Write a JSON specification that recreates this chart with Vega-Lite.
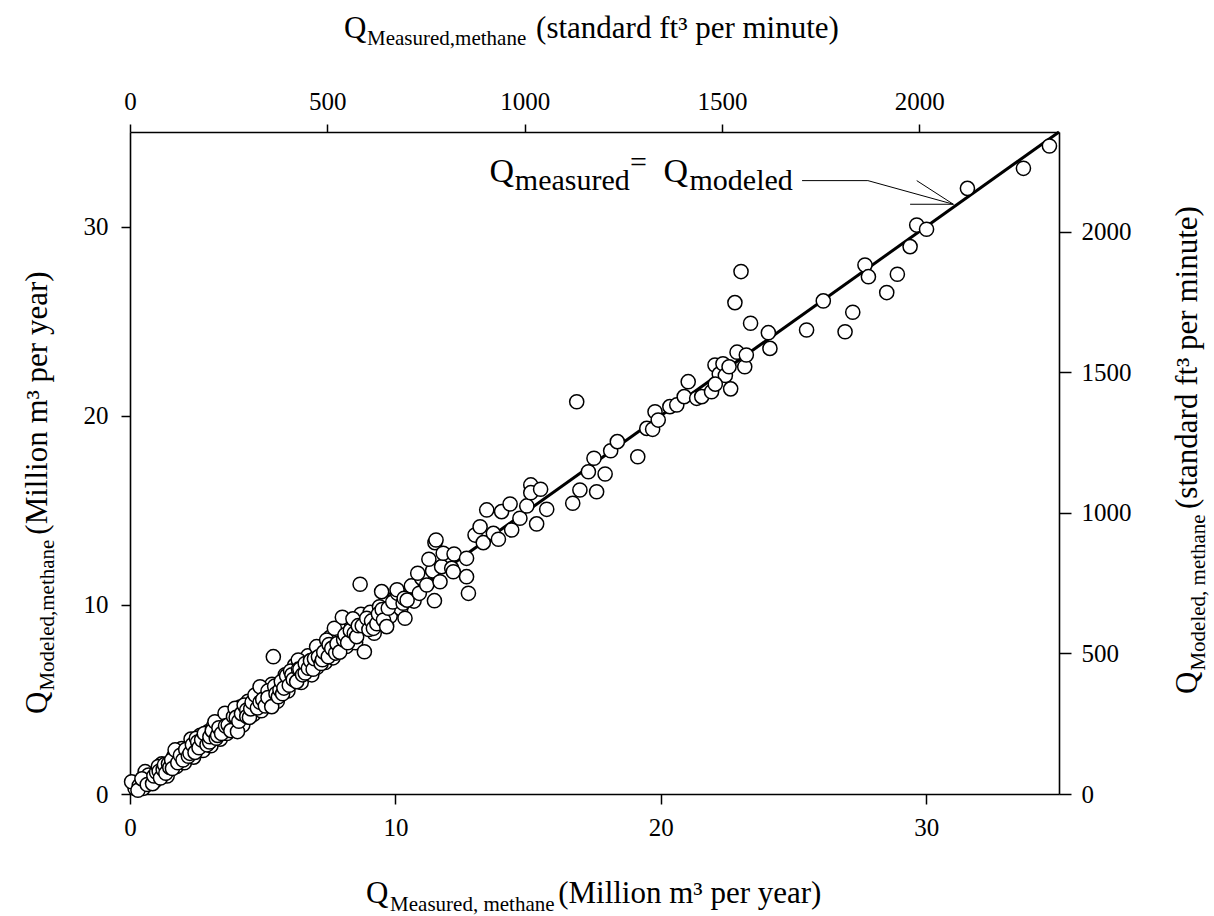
{
  "$schema": "https://vega.github.io/schema/vega-lite/v6.json",
  "width": 929,
  "height": 662,
  "autosize": {"type": "none"},
  "padding": {"left": 130, "top": 132, "right": 155, "bottom": 122},
  "background": "white",
  "data": {"values": [{}]},
  "config": {
    "view": {"stroke": null},
    "axis": {
      "domainColor": "black", "domainWidth": 1.6, "tickColor": "black", "tickWidth": 1.5,
      "labelFont": "Liberation Serif", "labelFontSize": 25, "labelColor": "black",
      "grid": false, "labelFlush": false, "labelOverlap": false
    },
    "text": {"font": "Liberation Serif", "color": "black"}
  },
  "resolve": {"axis": {"x": "independent", "y": "independent"}},
  "layer": [
    {
      "mark": {"type": "rule", "color": "black", "strokeWidth": 3},
      "encoding": {
        "x": {"datum": 0, "type": "quantitative", "scale": {"domain": [0, 35], "nice": false, "zero": false}, "axis": null},
        "y": {"datum": 0, "type": "quantitative", "scale": {"domain": [0, 35], "nice": false, "zero": false}, "axis": null},
        "x2": {"datum": 35},
        "y2": {"datum": 35}
      }
    },
    {
      "data": {"values": [
        {"measured": 0.19, "modeled": 0.30}, {"measured": 0.06, "modeled": 0.65}, {"measured": 0.35, "modeled": 0.45}, {"measured": 0.5, "modeled": 0.3},
        {"measured": 0.3, "modeled": 0.2}, {"measured": 0.57, "modeled": 1.18}, {"measured": 0.75, "modeled": 0.74}, {"measured": 0.7, "modeled": 1.0},
        {"measured": 0.45, "modeled": 0.8}, {"measured": 0.65, "modeled": 0.5}, {"measured": 0.95, "modeled": 0.7}, {"measured": 1.2, "modeled": 1.6},
        {"measured": 1.4, "modeled": 0.95}, {"measured": 1.65, "modeled": 2.0}, {"measured": 1.75, "modeled": 1.45}, {"measured": 1.95, "modeled": 2.4},
        {"measured": 2.05, "modeled": 1.65}, {"measured": 2.3, "modeled": 2.9}, {"measured": 2.4, "modeled": 1.95}, {"measured": 2.65, "modeled": 3.1},
        {"measured": 2.75, "modeled": 2.3}, {"measured": 2.95, "modeled": 3.3}, {"measured": 3.05, "modeled": 2.55}, {"measured": 3.15, "modeled": 3.6},
        {"measured": 3.4, "modeled": 2.9}, {"measured": 3.5, "modeled": 3.9}, {"measured": 3.65, "modeled": 3.2}, {"measured": 3.75, "modeled": 4.2},
        {"measured": 3.85, "modeled": 3.7}, {"measured": 4.15, "modeled": 4.6}, {"measured": 4.25, "modeled": 3.65}, {"measured": 4.45, "modeled": 4.9},
        {"measured": 4.65, "modeled": 4.2}, {"measured": 4.75, "modeled": 5.0}, {"measured": 4.95, "modeled": 4.4}, {"measured": 5.05, "modeled": 5.5},
        {"measured": 5.25, "modeled": 4.9}, {"measured": 5.35, "modeled": 5.8}, {"measured": 5.55, "modeled": 4.9}, {"measured": 5.85, "modeled": 6.3},
        {"measured": 5.95, "modeled": 5.45}, {"measured": 6.2, "modeled": 6.8}, {"measured": 6.45, "modeled": 5.9}, {"measured": 6.7, "modeled": 7.3},
        {"measured": 6.85, "modeled": 6.3}, {"measured": 7.05, "modeled": 6.7}, {"measured": 7.15, "modeled": 7.6}, {"measured": 7.35, "modeled": 6.95},
        {"measured": 7.55, "modeled": 8.3}, {"measured": 7.65, "modeled": 7.2}, {"measured": 7.85, "modeled": 8.4}, {"measured": 8.15, "modeled": 7.8},
        {"measured": 8.35, "modeled": 9.0}, {"measured": 8.5, "modeled": 8.0}, {"measured": 8.7, "modeled": 9.5}, {"measured": 9.05, "modeled": 9.6},
        {"measured": 9.2, "modeled": 8.5}, {"measured": 9.4, "modeled": 9.9}, {"measured": 9.8, "modeled": 9.4}, {"measured": 10.0, "modeled": 10.4},
        {"measured": 10.2, "modeled": 9.8}, {"measured": 10.6, "modeled": 11.0}, {"measured": 10.7, "modeled": 10.2}, {"measured": 11.0, "modeled": 11.4},
        {"measured": 11.4, "modeled": 11.8},
        {"measured": 0.85, "modeled": 0.55}, {"measured": 0.9, "modeled": 0.95}, {"measured": 1.0, "modeled": 1.15}, {"measured": 1.07, "modeled": 1.45},
        {"measured": 1.1, "modeled": 1.2}, {"measured": 1.15, "modeled": 0.85}, {"measured": 1.25, "modeled": 1.3}, {"measured": 1.3, "modeled": 1.55},
        {"measured": 1.35, "modeled": 1.1}, {"measured": 1.45, "modeled": 1.6}, {"measured": 1.5, "modeled": 1.4}, {"measured": 1.57, "modeled": 1.80},
        {"measured": 1.6, "modeled": 1.35}, {"measured": 1.7, "modeled": 2.33}, {"measured": 1.8, "modeled": 1.65}, {"measured": 1.9, "modeled": 2.05},
        {"measured": 2.0, "modeled": 1.8}, {"measured": 2.1, "modeled": 2.35}, {"measured": 2.2, "modeled": 2.0}, {"measured": 2.26, "modeled": 2.15},
        {"measured": 2.35, "modeled": 2.6}, {"measured": 2.45, "modeled": 2.2}, {"measured": 2.5, "modeled": 2.95}, {"measured": 2.55, "modeled": 2.75},
        {"measured": 2.6, "modeled": 2.45}, {"measured": 2.70, "modeled": 2.86}, {"measured": 2.8, "modeled": 3.2}, {"measured": 2.9, "modeled": 2.6},
        {"measured": 3.0, "modeled": 2.75}, {"measured": 3.01, "modeled": 3.03}, {"measured": 3.1, "modeled": 3.35}, {"measured": 3.2, "modeled": 3.82},
        {"measured": 3.25, "modeled": 2.95}, {"measured": 3.3, "modeled": 3.1}, {"measured": 3.35, "modeled": 3.5}, {"measured": 3.45, "modeled": 3.2},
        {"measured": 3.58, "modeled": 4.27}, {"measured": 3.6, "modeled": 3.6}, {"measured": 3.70, "modeled": 3.65}, {"measured": 3.8, "modeled": 3.35},
        {"measured": 3.9, "modeled": 4.1}, {"measured": 3.96, "modeled": 4.53}, {"measured": 4.0, "modeled": 4.05}, {"measured": 4.05, "modeled": 3.3},
        {"measured": 4.1, "modeled": 3.85}, {"measured": 4.2, "modeled": 4.25}, {"measured": 4.3, "modeled": 4.7}, {"measured": 4.40, "modeled": 4.44},
        {"measured": 4.4, "modeled": 4.1}, {"measured": 4.5, "modeled": 4.05}, {"measured": 4.55, "modeled": 4.5}, {"measured": 4.6, "modeled": 4.85},
        {"measured": 4.71, "modeled": 5.23}, {"measured": 4.8, "modeled": 4.55}, {"measured": 4.9, "modeled": 5.67}, {"measured": 4.9, "modeled": 4.85},
        {"measured": 5.0, "modeled": 5.0}, {"measured": 5.1, "modeled": 4.65}, {"measured": 5.2, "modeled": 5.45}, {"measured": 5.2, "modeled": 5.1},
        {"measured": 5.34, "modeled": 4.62}, {"measured": 5.40, "modeled": 7.26}, {"measured": 5.45, "modeled": 5.7}, {"measured": 5.5, "modeled": 5.3},
        {"measured": 5.59, "modeled": 5.14}, {"measured": 5.65, "modeled": 5.5}, {"measured": 5.7, "modeled": 5.95}, {"measured": 5.75, "modeled": 5.3},
        {"measured": 5.8, "modeled": 5.6}, {"measured": 5.9, "modeled": 6.25}, {"measured": 6.0, "modeled": 5.75}, {"measured": 6.05, "modeled": 6.5},
        {"measured": 6.1, "modeled": 6.3}, {"measured": 6.15, "modeled": 6.05}, {"measured": 6.28, "modeled": 5.94}, {"measured": 6.34, "modeled": 7.08},
        {"measured": 6.35, "modeled": 6.6}, {"measured": 6.4, "modeled": 6.6}, {"measured": 6.5, "modeled": 6.3}, {"measured": 6.6, "modeled": 6.4},
        {"measured": 6.6, "modeled": 6.9}, {"measured": 6.72, "modeled": 6.65}, {"measured": 6.8, "modeled": 7.05}, {"measured": 6.9, "modeled": 6.6},
        {"measured": 6.95, "modeled": 7.15}, {"measured": 7.03, "modeled": 7.79}, {"measured": 7.1, "modeled": 7.25}, {"measured": 7.2, "modeled": 6.9},
        {"measured": 7.25, "modeled": 7.1}, {"measured": 7.3, "modeled": 7.5}, {"measured": 7.41, "modeled": 8.14}, {"measured": 7.47, "modeled": 7.26},
        {"measured": 7.5, "modeled": 7.9}, {"measured": 7.6, "modeled": 7.7}, {"measured": 7.70, "modeled": 8.76}, {"measured": 7.75, "modeled": 7.45},
        {"measured": 7.8, "modeled": 7.95}, {"measured": 7.9, "modeled": 7.5}, {"measured": 8.0, "modeled": 9.34}, {"measured": 8.05, "modeled": 8.15},
        {"measured": 8.10, "modeled": 8.41}, {"measured": 8.2, "modeled": 8.0}, {"measured": 8.3, "modeled": 8.65}, {"measured": 8.4, "modeled": 9.26},
        {"measured": 8.45, "modeled": 8.5}, {"measured": 8.54, "modeled": 8.32}, {"measured": 8.6, "modeled": 8.9}, {"measured": 8.67, "modeled": 11.09},
        {"measured": 8.75, "modeled": 8.9}, {"measured": 8.83, "modeled": 7.52}, {"measured": 8.92, "modeled": 9.29}, {"measured": 9.0, "modeled": 8.7},
        {"measured": 9.1, "modeled": 9.15}, {"measured": 9.17, "modeled": 8.76}, {"measured": 9.3, "modeled": 9.0}, {"measured": 9.36, "modeled": 9.52},
        {"measured": 9.48, "modeled": 10.7}, {"measured": 9.5, "modeled": 9.75}, {"measured": 9.55, "modeled": 9.2}, {"measured": 9.67, "modeled": 8.85},
        {"measured": 9.73, "modeled": 9.82}, {"measured": 9.9, "modeled": 10.15}, {"measured": 10.08, "modeled": 10.61}, {"measured": 10.06, "modeled": 10.8},
        {"measured": 10.29, "modeled": 10.09}, {"measured": 10.33, "modeled": 10.35}, {"measured": 10.36, "modeled": 9.29}, {"measured": 10.44, "modeled": 10.25},
        {"measured": 10.84, "modeled": 11.67}, {"measured": 10.9, "modeled": 10.61}, {"measured": 11.18, "modeled": 11.05}, {"measured": 11.26, "modeled": 12.41},
        {"measured": 11.47, "modeled": 10.22}, {"measured": 11.49, "modeled": 13.29}, {"measured": 11.53, "modeled": 13.43}, {"measured": 11.68, "modeled": 11.22},
        {"measured": 11.74, "modeled": 12.02}, {"measured": 11.80, "modeled": 12.73}, {"measured": 12.12, "modeled": 11.93}, {"measured": 12.18, "modeled": 11.75},
        {"measured": 12.21, "modeled": 12.69}, {"measured": 12.68, "modeled": 11.49}, {"measured": 12.68, "modeled": 12.46}, {"measured": 12.75, "modeled": 10.61},
        {"measured": 13.0, "modeled": 13.69}, {"measured": 13.19, "modeled": 14.13}, {"measured": 13.31, "modeled": 13.29}, {"measured": 13.44, "modeled": 15.02},
        {"measured": 13.69, "modeled": 13.78}, {"measured": 13.88, "modeled": 13.47}, {"measured": 14.0, "modeled": 14.93}, {"measured": 14.32, "modeled": 15.33},
        {"measured": 14.38, "modeled": 13.96}, {"measured": 14.69, "modeled": 14.58}, {"measured": 14.95, "modeled": 15.23}, {"measured": 15.1, "modeled": 16.34},
        {"measured": 15.1, "modeled": 15.93}, {"measured": 15.32, "modeled": 14.28}, {"measured": 15.47, "modeled": 16.11}, {"measured": 15.70, "modeled": 15.05},
        {"measured": 16.68, "modeled": 15.37}, {"measured": 16.83, "modeled": 20.74}, {"measured": 16.95, "modeled": 16.07}, {"measured": 17.27, "modeled": 17.04},
        {"measured": 17.48, "modeled": 17.75}, {"measured": 17.58, "modeled": 15.98}, {"measured": 17.9, "modeled": 16.92}, {"measured": 18.11, "modeled": 18.15},
        {"measured": 18.36, "modeled": 18.63}, {"measured": 19.13, "modeled": 17.83}, {"measured": 19.47, "modeled": 19.33}, {"measured": 19.69, "modeled": 19.28},
        {"measured": 19.78, "modeled": 20.21}, {"measured": 19.90, "modeled": 19.77}, {"measured": 20.34, "modeled": 20.48}, {"measured": 20.6, "modeled": 20.57},
        {"measured": 20.88, "modeled": 21.01}, {"measured": 21.03, "modeled": 21.80}, {"measured": 21.35, "modeled": 20.92}, {"measured": 21.54, "modeled": 21.01},
        {"measured": 21.91, "modeled": 21.27}, {"measured": 22.04, "modeled": 22.68}, {"measured": 22.2, "modeled": 22.2}, {"measured": 22.34, "modeled": 22.75},
        {"measured": 22.43, "modeled": 22.13}, {"measured": 22.05, "modeled": 21.67}, {"measured": 22.63, "modeled": 21.42}, {"measured": 22.57, "modeled": 22.59},
        {"measured": 22.87, "modeled": 23.36}, {"measured": 23.16, "modeled": 22.59}, {"measured": 23.22, "modeled": 23.21}, {"measured": 23.02, "modeled": 27.62},
        {"measured": 22.79, "modeled": 25.98}, {"measured": 23.38, "modeled": 24.89}, {"measured": 24.05, "modeled": 24.39}, {"measured": 24.11, "modeled": 23.56},
        {"measured": 25.49, "modeled": 24.53}, {"measured": 26.12, "modeled": 26.07}, {"measured": 27.23, "modeled": 25.47}, {"measured": 26.94, "modeled": 24.44},
        {"measured": 27.69, "modeled": 27.97}, {"measured": 27.82, "modeled": 27.35}, {"measured": 28.91, "modeled": 27.48}, {"measured": 28.51, "modeled": 26.51},
        {"measured": 29.39, "modeled": 28.94}, {"measured": 29.64, "modeled": 30.08}, {"measured": 30.01, "modeled": 29.86}, {"measured": 31.55, "modeled": 32.02},
        {"measured": 33.66, "modeled": 33.08}, {"measured": 34.64, "modeled": 34.26}
      ]},
      "mark": {"type": "circle", "fill": "white", "stroke": "black", "strokeWidth": 1.5, "opacity": 1, "fillOpacity": 1, "size": 200},
      "encoding": {
        "x": {"field": "measured", "type": "quantitative", "scale": {"domain": [0, 35], "nice": false, "zero": false},
              "axis": {"orient": "bottom", "values": [0, 10, 20, 30], "title": null, "tickSize": 10, "labelPadding": 11}},
        "y": {"field": "modeled", "type": "quantitative", "scale": {"domain": [0, 35], "nice": false, "zero": false},
              "axis": {"orient": "left", "values": [0, 10, 20, 30], "title": null, "tickSize": 9, "labelPadding": 13}}
      }
    },
    {
      "mark": {"type": "point", "opacity": 0},
      "encoding": {
        "x": {"datum": 0, "type": "quantitative", "scale": {"domain": [0, 35], "nice": false, "zero": false},
              "axis": {"orient": "top", "values": [0, 7.4342, 14.8683, 22.3025, 29.7366], "labelExpr": "format(datum.value * 2354 / 35, '.0f')", "title": null, "tickSize": 8, "labelPadding": 10}},
        "y": {"datum": 0, "type": "quantitative", "scale": {"domain": [0, 35], "nice": false, "zero": false},
              "axis": {"orient": "right", "values": [0, 7.4342, 14.8683, 22.3025, 29.7366], "labelExpr": "format(datum.value * 2354 / 35, '.0f')", "title": null, "tickSize": 12, "labelPadding": 10}}
      }
    },
    {
      "mark": {"type": "rule", "color": "black", "strokeWidth": 1},
      "encoding": {
        "x": {"datum": 25.32, "type": "quantitative", "scale": {"domain": [0, 35]}, "axis": null},
        "y": {"datum": 32.43, "type": "quantitative", "scale": {"domain": [0, 35]}, "axis": null},
        "x2": {"datum": 27.80}, "y2": {"datum": 32.43}
      }
    },
    {
      "mark": {"type": "rule", "color": "black", "strokeWidth": 1},
      "encoding": {
        "x": {"datum": 27.80, "type": "quantitative", "scale": {"domain": [0, 35]}, "axis": null},
        "y": {"datum": 32.43, "type": "quantitative", "scale": {"domain": [0, 35]}, "axis": null},
        "x2": {"datum": 31.02}, "y2": {"datum": 31.18}
      }
    },
    {
      "mark": {"type": "rule", "color": "black", "strokeWidth": 1},
      "encoding": {
        "x": {"datum": 29.64, "type": "quantitative", "scale": {"domain": [0, 35]}, "axis": null},
        "y": {"datum": 32.43, "type": "quantitative", "scale": {"domain": [0, 35]}, "axis": null},
        "x2": {"datum": 31.02}, "y2": {"datum": 31.18}
      }
    },
    {
      "mark": {"type": "rule", "color": "black", "strokeWidth": 1},
      "encoding": {
        "x": {"datum": 29.39, "type": "quantitative", "scale": {"domain": [0, 35]}, "axis": null},
        "y": {"datum": 31.18, "type": "quantitative", "scale": {"domain": [0, 35]}, "axis": null},
        "x2": {"datum": 31.02}, "y2": {"datum": 31.18}
      }
    },
    {
      "mark": {"type": "text", "fontSize": 34, "align": "left", "baseline": "alphabetic"},
      "encoding": {
        "x": {"datum": 13.54, "type": "quantitative", "scale": {"domain": [0, 35]}, "axis": null},
        "y": {"datum": 32.36, "type": "quantitative", "scale": {"domain": [0, 35]}, "axis": null},
        "text": {"value": "Q"}
      }
    },
    {
      "mark": {"type": "text", "fontSize": 30, "align": "left", "baseline": "alphabetic"},
      "encoding": {
        "x": {"datum": 14.50, "type": "quantitative", "scale": {"domain": [0, 35]}, "axis": null},
        "y": {"datum": 31.93, "type": "quantitative", "scale": {"domain": [0, 35]}, "axis": null},
        "text": {"value": "measured"}
      }
    },
    {
      "mark": {"type": "text", "fontSize": 30, "align": "center", "baseline": "alphabetic"},
      "encoding": {
        "x": {"datum": 19.16, "type": "quantitative", "scale": {"domain": [0, 35]}, "axis": null},
        "y": {"datum": 32.89, "type": "quantitative", "scale": {"domain": [0, 35]}, "axis": null},
        "text": {"value": "="}
      }
    },
    {
      "mark": {"type": "text", "fontSize": 34, "align": "left", "baseline": "alphabetic"},
      "encoding": {
        "x": {"datum": 20.10, "type": "quantitative", "scale": {"domain": [0, 35]}, "axis": null},
        "y": {"datum": 32.36, "type": "quantitative", "scale": {"domain": [0, 35]}, "axis": null},
        "text": {"value": "Q"}
      }
    },
    {
      "mark": {"type": "text", "fontSize": 30, "align": "left", "baseline": "alphabetic"},
      "encoding": {
        "x": {"datum": 21.08, "type": "quantitative", "scale": {"domain": [0, 35]}, "axis": null},
        "y": {"datum": 31.93, "type": "quantitative", "scale": {"domain": [0, 35]}, "axis": null},
        "text": {"value": "modeled"}
      }
    },
    {
      "mark": {"type": "text", "fontSize": 31, "align": "left", "baseline": "alphabetic"},
      "encoding": {
        "x": {"datum": 8.89, "type": "quantitative", "scale": {"domain": [0, 35]}, "axis": null},
        "y": {"datum": -5.76, "type": "quantitative", "scale": {"domain": [0, 35]}, "axis": null},
        "text": {"value": "Q"}
      }
    },
    {
      "mark": {"type": "text", "fontSize": 21, "align": "left", "baseline": "alphabetic"},
      "encoding": {
        "x": {"datum": 9.80, "type": "quantitative", "scale": {"domain": [0, 35]}, "axis": null},
        "y": {"datum": -6.19, "type": "quantitative", "scale": {"domain": [0, 35]}, "axis": null},
        "text": {"value": "Measured, methane"}
      }
    },
    {
      "mark": {"type": "text", "fontSize": 31, "align": "left", "baseline": "alphabetic"},
      "encoding": {
        "x": {"datum": 16.13, "type": "quantitative", "scale": {"domain": [0, 35]}, "axis": null},
        "y": {"datum": -5.76, "type": "quantitative", "scale": {"domain": [0, 35]}, "axis": null},
        "text": {"value": "(Million m³ per year)"}
      }
    },
    {
      "mark": {"type": "text", "fontSize": 31, "align": "left", "baseline": "alphabetic"},
      "encoding": {
        "x": {"datum": 8.06, "type": "quantitative", "scale": {"domain": [0, 35]}, "axis": null},
        "y": {"datum": 39.97, "type": "quantitative", "scale": {"domain": [0, 35]}, "axis": null},
        "text": {"value": "Q"}
      }
    },
    {
      "mark": {"type": "text", "fontSize": 21, "align": "left", "baseline": "alphabetic"},
      "encoding": {
        "x": {"datum": 8.93, "type": "quantitative", "scale": {"domain": [0, 35]}, "axis": null},
        "y": {"datum": 39.60, "type": "quantitative", "scale": {"domain": [0, 35]}, "axis": null},
        "text": {"value": "Measured,methane"}
      }
    },
    {
      "mark": {"type": "text", "fontSize": 31, "align": "left", "baseline": "alphabetic"},
      "encoding": {
        "x": {"datum": 15.30, "type": "quantitative", "scale": {"domain": [0, 35]}, "axis": null},
        "y": {"datum": 39.97, "type": "quantitative", "scale": {"domain": [0, 35]}, "axis": null},
        "text": {"value": "(standard ft³ per minute)"}
      }
    },
    {
      "mark": {"type": "text", "fontSize": 31, "align": "left", "baseline": "alphabetic", "angle": 270},
      "encoding": {
        "x": {"datum": -3.127, "type": "quantitative", "scale": {"domain": [0, 35]}, "axis": null},
        "y": {"datum": 4.23, "type": "quantitative", "scale": {"domain": [0, 35]}, "axis": null},
        "text": {"value": "Q"}
      }
    },
    {
      "mark": {"type": "text", "fontSize": 21, "align": "left", "baseline": "alphabetic", "angle": 270},
      "encoding": {
        "x": {"datum": -2.863, "type": "quantitative", "scale": {"domain": [0, 35]}, "axis": null},
        "y": {"datum": 5.466, "type": "quantitative", "scale": {"domain": [0, 35]}, "axis": null},
        "text": {"value": "Modeled,methane"}
      }
    },
    {
      "mark": {"type": "text", "fontSize": 31, "align": "left", "baseline": "alphabetic", "angle": 270},
      "encoding": {
        "x": {"datum": -3.127, "type": "quantitative", "scale": {"domain": [0, 35]}, "axis": null},
        "y": {"datum": 13.71, "type": "quantitative", "scale": {"domain": [0, 35]}, "axis": null},
        "text": {"value": "(Million m³ per year)"}
      }
    },
    {
      "mark": {"type": "text", "fontSize": 31, "align": "left", "baseline": "alphabetic", "angle": 270},
      "encoding": {
        "x": {"datum": 40.20, "type": "quantitative", "scale": {"domain": [0, 35]}, "axis": null},
        "y": {"datum": 5.287, "type": "quantitative", "scale": {"domain": [0, 35]}, "axis": null},
        "text": {"value": "Q"}
      }
    },
    {
      "mark": {"type": "text", "fontSize": 21, "align": "left", "baseline": "alphabetic", "angle": 270},
      "encoding": {
        "x": {"datum": 40.50, "type": "quantitative", "scale": {"domain": [0, 35]}, "axis": null},
        "y": {"datum": 6.524, "type": "quantitative", "scale": {"domain": [0, 35]}, "axis": null},
        "text": {"value": "Modeled, methane"}
      }
    },
    {
      "mark": {"type": "text", "fontSize": 31, "align": "left", "baseline": "alphabetic", "angle": 270},
      "encoding": {
        "x": {"datum": 40.20, "type": "quantitative", "scale": {"domain": [0, 35]}, "axis": null},
        "y": {"datum": 15.07, "type": "quantitative", "scale": {"domain": [0, 35]}, "axis": null},
        "text": {"value": "(standard ft³ per minute)"}
      }
    }
  ]
}
